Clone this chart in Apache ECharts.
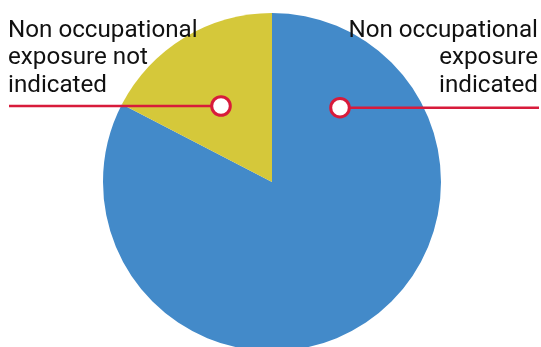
<!DOCTYPE html>
<html>
<head>
<meta charset="utf-8">
<script src="https://cdn.jsdelivr.net/npm/echarts@6/dist/echarts.min.js"></script>
<style>
  html, body { margin: 0; padding: 0; background: #ffffff; }
  #chart { width: 541px; height: 347px; }
</style>
</head>
<body>
<div id="chart"></div>
<script>
// Share of cases by whether non occupational exposure was indicated (%)
const categories = ['Non occupational exposure indicated', 'Non occupational exposure not indicated'];
const shares = [82.6, 17.4];
const sliceColors = ['#438ac9', '#d5c83a'];

// Callout label text, one entry per line
const leftLabelLines = ['Non occupational', 'exposure not', 'indicated'];
const rightLabelLines = ['Non occupational', 'exposure', 'indicated'];

const RED = '#d81b3b';
const FONT = 'Roboto, "Open Sans", sans-serif';
const FONT_SIZE = 24.2;
const baselines = [36, 63.5, 91];

function textLines(lines, x, align) {
  return lines.map((t, i) => ({
    type: 'text',
    x: x,
    y: baselines[i] + FONT_SIZE * 0.27,
    z: 10,
    style: {
      text: t,
      fill: '#111111',
      font: '400 ' + FONT_SIZE + 'px ' + FONT,
      textAlign: align,
      textVerticalAlign: 'bottom'
    }
  }));
}

function callout(x1, x2, y, cx, cy) {
  return [
    { type: 'line', z: 10, shape: { x1: x1, y1: y, x2: x2, y2: y }, style: { stroke: RED, lineWidth: 2.5 } },
    { type: 'circle', z: 11, shape: { cx: cx, cy: cy, r: 9.3 }, style: { fill: '#ffffff', stroke: RED, lineWidth: 3 } }
  ];
}

const chart = echarts.init(document.getElementById('chart'), null, { renderer: 'canvas' });
chart.setOption({
  animation: false,
  backgroundColor: '#ffffff',
  series: [{
    type: 'pie',
    center: [272, 182],
    radius: 169,
    startAngle: 90,
    clockwise: true,
    silent: true,
    label: { show: false },
    labelLine: { show: false },
    itemStyle: { borderWidth: 0 },
    data: categories.map((name, i) => ({
      name: name,
      value: shares[i],
      itemStyle: { color: sliceColors[i] }
    }))
  }],
  graphic: [
    ...textLines(leftLabelLines, 8, 'left'),
    ...textLines(rightLabelLines, 538, 'right'),
    ...callout(9, 212, 106, 221, 106),
    ...callout(349, 539, 107.7, 340, 107.7)
  ]
});
</script>
</body>
</html>
